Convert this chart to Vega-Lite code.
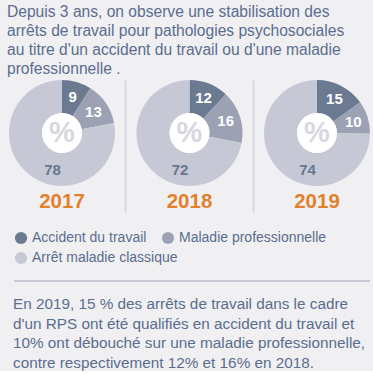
{
  "$schema": "https://vega.github.io/schema/vega-lite/v6.json",
  "background": "#f0f0f3",
  "padding": {"left": 7, "top": 4, "right": 0, "bottom": 0},
  "config": {"view": {"stroke": null}},
  "title": {
    "text": ["Depuis 3 ans, on observe une stabilisation des", "arrêts de travail pour pathologies psychosociales", "au titre d'un accident du travail ou d'une maladie", "professionnelle ."],
    "anchor": "start", "orient": "top", "dx": -2,
    "font": "Liberation Sans, sans-serif",
    "fontSize": 15.6, "fontWeight": "normal", "color": "#5b6d8e", "lineHeight": 19.3, "offset": 2
  },
  "data": {"values": [
    {"year": "2017", "cat": "Accident du travail", "pct": 9},
    {"year": "2017", "cat": "Maladie professionnelle", "pct": 13},
    {"year": "2017", "cat": "Arrêt maladie classique", "pct": 78},
    {"year": "2018", "cat": "Accident du travail", "pct": 12},
    {"year": "2018", "cat": "Maladie professionnelle", "pct": 16},
    {"year": "2018", "cat": "Arrêt maladie classique", "pct": 72},
    {"year": "2019", "cat": "Accident du travail", "pct": 15},
    {"year": "2019", "cat": "Maladie professionnelle", "pct": 10},
    {"year": "2019", "cat": "Arrêt maladie classique", "pct": 74}
  ]},
  "spacing": 15,
  "vconcat": [
    {
      "width": 356,
      "height": 106,
      "transform": [
        {"calculate": "indexof(['Accident du travail','Maladie professionnelle','Arrêt maladie classique'], datum.cat)", "as": "ord"},
        {"stack": "pct", "groupby": ["year"], "sort": [{"field": "ord", "order": "ascending"}], "offset": "normalize", "as": ["t0", "t1"]},
        {"calculate": "datum.cat === 'Arrêt maladie classique' ? 0.54 : (datum.t0 + datum.t1) / 2", "as": "lt"}
      ],
      "resolve": {"axis": {"x": "independent"}},
      "layer": [
        {
          "mark": {"type": "arc", "outerRadius": 53, "innerRadius": 20},
          "encoding": {
            "x": {
              "field": "year", "type": "nominal",
              "scale": {"type": "band", "range": [-15.75, 366.75], "paddingInner": 0, "paddingOuter": 0},
              "axis": {"orient": "bottom", "title": null, "domain": false, "ticks": false, "grid": false, "labelAngle": 0,
                "labelColor": "#e3802c", "labelFont": "Liberation Sans, sans-serif", "labelFontWeight": "bold", "labelFontSize": 20.5, "labelPadding": 5}
            },
            "y": {"datum": "all", "type": "nominal", "axis": null, "scale": {"type": "band", "paddingInner": 0, "paddingOuter": 0}},
            "theta": {"field": "t0", "type": "quantitative", "stack": null, "scale": {"domain": [0, 1], "range": [0, 6.283185]}},
            "theta2": {"field": "t1"},
            "color": {
              "field": "cat", "type": "nominal",
              "scale": {"domain": ["Accident du travail", "Maladie professionnelle", "Arrêt maladie classique"], "range": ["#6b7a90", "#9ca2b4", "#c6c9d5"]},
              "legend": null
            }
          }
        },
        {
          "transform": [{"filter": "datum.cat === 'Accident du travail'"}],
          "mark": {"type": "circle", "size": 1590, "color": "#ffffff", "opacity": 1},
          "encoding": {
            "x": {
              "field": "year", "type": "nominal",
              "axis": {"orient": "bottom", "title": null, "values": ["2018", "2019"], "bandPosition": 0, "labels": false, "domain": false,
                "grid": true, "gridColor": "#d6d8e1", "gridWidth": 2, "ticks": true, "tickSize": 26, "tickColor": "#d6d8e1", "tickWidth": 2}
            },
            "y": {"datum": "all", "type": "nominal", "axis": null}
          }
        },
        {
          "transform": [{"filter": "datum.cat === 'Accident du travail'"}],
          "mark": {"type": "text", "text": "%", "font": "Liberation Sans, sans-serif", "fontSize": 29, "fontWeight": "bold", "color": "#d6d8e0", "baseline": "middle", "align": "center"},
          "encoding": {
            "x": {"field": "year", "type": "nominal", "axis": null},
            "y": {"datum": "all", "type": "nominal", "axis": null}
          }
        },
        {
          "mark": {"type": "text", "radius": 38, "font": "Liberation Sans, sans-serif", "fontSize": 15, "fontWeight": "bold", "baseline": "middle", "align": "center"},
          "encoding": {
            "x": {"field": "year", "type": "nominal", "axis": null},
            "y": {"datum": "all", "type": "nominal", "axis": null},
            "theta": {"field": "lt", "type": "quantitative", "stack": null},
            "text": {"field": "pct", "type": "quantitative"},
            "color": {"condition": {"test": "datum.cat === 'Arrêt maladie classique'", "value": "#677790"}, "value": "#ffffff"}
          }
        }
      ]
    },
    {
      "width": 161,
      "height": 36,
      "transform": [
        {"filter": "datum.year === '2017'"},
        {"calculate": "indexof(['Accident du travail','Maladie professionnelle','Arrêt maladie classique'], datum.cat)", "as": "ord"},
        {"calculate": "datum.ord % 2", "as": "col"},
        {"calculate": "floor(datum.ord / 2)", "as": "row"}
      ],
      "encoding": {
        "x": {"field": "col", "type": "ordinal", "scale": {"type": "point", "range": [7, 154], "padding": 0}, "axis": null},
        "y": {"field": "row", "type": "ordinal", "scale": {"type": "point", "padding": 0.4, "align": 0.625}, "axis": null}
      },
      "layer": [
        {"mark": {"type": "circle", "size": 150, "opacity": 1}, "encoding": {"color": {"field": "cat", "type": "nominal", "legend": null}}},
        {"mark": {"type": "text", "align": "left", "baseline": "middle", "dx": 11, "fontSize": 14, "color": "#5b6d8e", "font": "Liberation Sans, sans-serif"}, "encoding": {"text": {"field": "cat", "type": "nominal"}}}
      ]
    },
    {
      "width": 356,
      "height": 2,
      "view": {"fill": "#c8cad7", "stroke": null},
      "transform": [{"filter": "false"}],
      "mark": {"type": "point"},
      "encoding": {},
      "title": {
        "text": ["En 2019, 15 % des arrêts de travail dans le cadre", "d'un RPS ont été qualifiés en accident du travail et", "10% ont débouché sur une maladie professionnelle,", "contre respectivement 12% et 16% en 2018."],
        "orient": "bottom", "anchor": "start", "dx": -1,
        "font": "Liberation Sans, sans-serif",
        "fontSize": 15.3, "fontWeight": "normal", "color": "#5b6d8e", "lineHeight": 19.5, "offset": 15
      }
    }
  ]
}
